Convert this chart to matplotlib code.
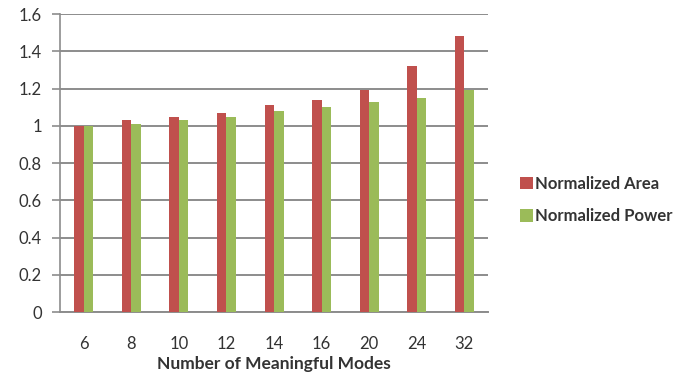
import numpy as np
import matplotlib.pyplot as plt

modes = ["6", "8", "10", "12", "14", "16", "20", "24", "32"]
norm_area = [1.00, 1.03, 1.05, 1.07, 1.11, 1.14, 1.19, 1.32, 1.48]
norm_power = [1.00, 1.01, 1.03, 1.05, 1.08, 1.10, 1.13, 1.15, 1.19]

plt.rcParams['font.family'] = ['Lato', 'DejaVu Sans']
text_col = "#333333"
grid_col = "#8c8c8c"

fig = plt.figure(figsize=(6.96, 3.81), dpi=100)
ax = fig.add_axes([0.0862, 0.181, 0.615, 0.782])

x = np.arange(len(modes))
w = 0.2
ax.bar(x - w / 2, norm_area, width=w, color="#C0504D", label="Normalized Area", zorder=3)
ax.bar(x + w / 2, norm_power, width=w, color="#9BBB59", label="Normalized Power", zorder=3)

ax.set_xlim(-0.5, len(modes) - 0.5)
ax.set_ylim(0, 1.6)
ax.set_yticks(np.arange(0, 1.61, 0.2))
ax.set_yticklabels(["0", "0.2", "0.4", "0.6", "0.8", "1", "1.2", "1.4", "1.6"])
ax.set_xticks(x)
ax.set_xticklabels(modes)

ax.grid(axis="y", color=grid_col, linewidth=1.4, zorder=0)
for s in ["top", "right"]:
    ax.spines[s].set_visible(False)
ax.spines["left"].set_color(grid_col)
ax.spines["bottom"].set_color(grid_col)
ax.spines["left"].set_linewidth(1.2)
ax.spines["bottom"].set_linewidth(1.4)

ax.tick_params(axis="y", length=6, color=grid_col, width=1.2, labelsize=12,
               labelcolor=text_col, pad=7)
ax.tick_params(axis="x", length=0, labelsize=12, labelcolor=text_col, pad=17)

ax.set_xlabel("Number of Meaningful Modes", fontsize=12.5, fontweight="bold",
              color=text_col, labelpad=3)

fig.legend(loc="center left", bbox_to_anchor=(0.726, 0.475), frameon=False,
           prop={"weight": "bold", "size": 12}, labelcolor=text_col,
           handlelength=0.75, handleheight=0.75, handletextpad=0.15, labelspacing=1.0)

fig.savefig("out.png", dpi=100)
